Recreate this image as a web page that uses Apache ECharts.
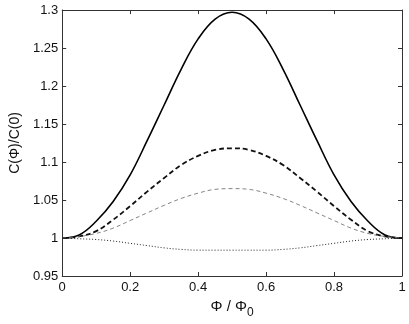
<!DOCTYPE html>
<html>
<head>
<meta charset="utf-8">
<script src="https://cdn.jsdelivr.net/npm/echarts@6/dist/echarts.min.js"></script>
<style>
  html, body { margin: 0; padding: 0; background: #fff; }
  #chart { width: 409px; height: 324px; }
</style>
</head>
<body>
<div id="chart"></div>
<script>
// flux values (Phi / Phi0)
var xValues = [0, 0.05, 0.1, 0.15, 0.2, 0.25, 0.3, 0.35, 0.4, 0.45, 0.5,
               0.55, 0.6, 0.65, 0.7, 0.75, 0.8, 0.85, 0.9, 0.95, 1];
// C(Phi)/C(0)
var solidValues = [1.000, 1.004, 1.022, 1.048, 1.083, 1.128, 1.175, 1.222, 1.262, 1.288, 1.297,
                   1.288, 1.262, 1.222, 1.175, 1.128, 1.083, 1.048, 1.022, 1.004, 1.000];
var thickDashValues = [1.000, 1.002, 1.009, 1.024, 1.042, 1.061, 1.079, 1.096, 1.108, 1.116, 1.118,
                       1.116, 1.108, 1.096, 1.079, 1.061, 1.042, 1.024, 1.009, 1.002, 1.000];
var thinDashValues = [1.000, 1.002, 1.006, 1.013, 1.023, 1.033, 1.043, 1.052, 1.059, 1.064, 1.065,
                      1.064, 1.059, 1.052, 1.043, 1.033, 1.023, 1.013, 1.006, 1.002, 1.000];
var dottedValues = [1.000, 0.999, 0.998, 0.996, 0.993, 0.990, 0.987, 0.985, 0.984, 0.984, 0.984,
                    0.984, 0.984, 0.985, 0.987, 0.990, 0.993, 0.996, 0.998, 0.999, 1.000];

function pairs(ys) {
  return xValues.map(function (x, i) { return [x, ys[i]]; });
}

var chart = echarts.init(document.getElementById('chart'), null, { renderer: 'canvas' });
var font = 'Liberation Sans, Arial, Helvetica, sans-serif';
var frame = { show: true, onZero: false, lineStyle: { color: '#333', width: 1 } };
var ticks = { show: true, inside: true, length: 4, lineStyle: { color: '#333' } };

var option = {
  backgroundColor: '#fff',
  animation: false,
  grid: { left: 52, right: 7, top: 10, bottom: 39 },
  xAxis: [{
    type: 'value', min: 0, max: 1, interval: 0.2, position: 'bottom',
    axisLine: frame, axisTick: ticks, splitLine: { show: false },
    axisLabel: { color: '#111', fontSize: 13, fontFamily: font, margin: 5 },
    name: '{a|Φ / Φ}{s|0}', nameLocation: 'middle', nameGap: 19,
    nameTextStyle: {
      fontFamily: font,
      rich: {
        a: { fontSize: 15, color: '#111', fontFamily: font },
        s: { fontSize: 12, color: '#111', fontFamily: font, padding: [12, 0, 0, 0] }
      }
    }
  }, {
    type: 'value', min: 0, max: 1, interval: 0.2, position: 'top',
    axisLine: frame, axisTick: ticks, axisLabel: { show: false }, splitLine: { show: false }
  }],
  yAxis: [{
    type: 'value', min: 0.95, max: 1.3, interval: 0.05, position: 'left',
    axisLine: frame, axisTick: ticks, splitLine: { show: false },
    axisLabel: { color: '#111', fontSize: 13, fontFamily: font, margin: 4 },
    name: 'C(Φ)/C(0)', nameLocation: 'middle', nameGap: 28, nameRotate: 90,
    nameTextStyle: { fontSize: 14, color: '#111', fontFamily: font }
  }, {
    type: 'value', min: 0.95, max: 1.3, interval: 0.05, position: 'right',
    axisLine: frame, axisTick: ticks, axisLabel: { show: false }, splitLine: { show: false }
  }],
  series: [{
    name: 'solid', type: 'line', data: pairs(solidValues), showSymbol: false,
    smooth: 0.4,
    lineStyle: { color: '#000', width: 1.6, type: 'solid' }
  }, {
    name: 'thick dash', type: 'line', data: pairs(thickDashValues), showSymbol: false,
    smooth: 0.4,
    lineStyle: { color: '#111', width: 1.8, type: [5, 3] }
  }, {
    name: 'thin dash', type: 'line', data: pairs(thinDashValues), showSymbol: false,
    smooth: 0.4,
    lineStyle: { color: '#777', width: 0.9, type: [4, 3] }
  }, {
    name: 'dotted', type: 'line', data: pairs(dottedValues), showSymbol: false,
    smooth: 0.4,
    lineStyle: { color: '#222', width: 1, type: [1, 2] }
  }]
};
chart.setOption(option);
</script>
</body>
</html>
